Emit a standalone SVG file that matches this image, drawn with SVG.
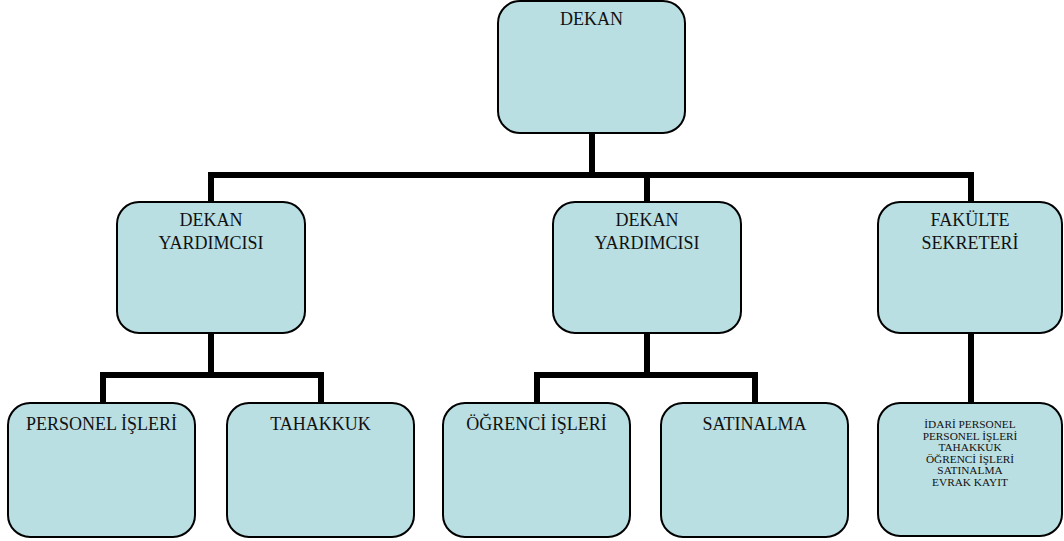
<svg xmlns="http://www.w3.org/2000/svg" width="1064" height="541" viewBox="0 0 1064 541">
<style>
.box{fill:#b9dfe3;stroke:#000;stroke-width:2}
.t{font-family:'Liberation Serif','DejaVu Serif','Noto Serif',serif;font-size:18px;fill:#111;text-anchor:middle}
.s{font-family:'Liberation Serif','DejaVu Serif','Noto Serif',serif;font-size:11.3px;fill:#111;text-anchor:middle}
.c{fill:none;stroke:#000;stroke-width:6;stroke-linejoin:miter}
</style>
<rect width="1064" height="541" fill="#fff"/>
<g id="connectors">
<path class="c" d="M592,133 V175 M211,202 V175 H971 V202 M647,175 V202"/>
<path class="c" d="M211,333 V375 M103,403 V375 H321 V403"/>
<path class="c" d="M647,333 V375 M537,403 V375 H755 V403"/>
<path class="c" d="M971,333 V403"/>
</g>
<g id="dekan"><rect class="box" x="498" y="1" width="187" height="132" rx="22"/><text class="t" font-family="Liberation Serif, DejaVu Serif, serif" x="591.5" y="25">DEKAN</text></g>
<g id="dy1"><rect class="box" x="117" y="202" width="188" height="131" rx="22"/><text class="t" x="211" y="226">DEKAN</text><text class="t" x="211" y="249">YARDIMCISI</text></g>
<g id="dy2"><rect class="box" x="553" y="202" width="188" height="131" rx="22"/><text class="t" x="647" y="226">DEKAN</text><text class="t" x="647" y="249">YARDIMCISI</text></g>
<g id="fs"><rect class="box" x="878" y="202" width="184" height="131" rx="22"/><text class="t" x="970" y="226">FAKÜLTE</text><text class="t" x="970" y="249">SEKRETERİ</text></g>
<g id="personel"><rect class="box" x="8" y="403" width="187" height="134" rx="22"/><text class="t" x="101.5" y="430">PERSONEL İŞLERİ</text></g>
<g id="tahakkuk"><rect class="box" x="227" y="403" width="187" height="134" rx="22"/><text class="t" x="320.5" y="430">TAHAKKUK</text></g>
<g id="ogrenci"><rect class="box" x="443" y="403" width="187" height="134" rx="22"/><text class="t" x="536.5" y="430">ÖĞRENCİ İŞLERİ</text></g>
<g id="satinalma"><rect class="box" x="661" y="403" width="187" height="134" rx="22"/><text class="t" x="754.5" y="430">SATINALMA</text></g>
<g id="birimler"><rect class="box" x="878" y="403" width="184" height="133" rx="22"/>
<text class="s" x="970" y="428">İDARİ PERSONEL</text>
<text class="s" x="970" y="439.5">PERSONEL İŞLERİ</text>
<text class="s" x="970" y="451">TAHAKKUK</text>
<text class="s" x="970" y="463">ÖĞRENCİ İŞLERİ</text>
<text class="s" x="970" y="474">SATINALMA</text>
<text class="s" x="970" y="485.5">EVRAK KAYIT</text>
</g>
</svg>
